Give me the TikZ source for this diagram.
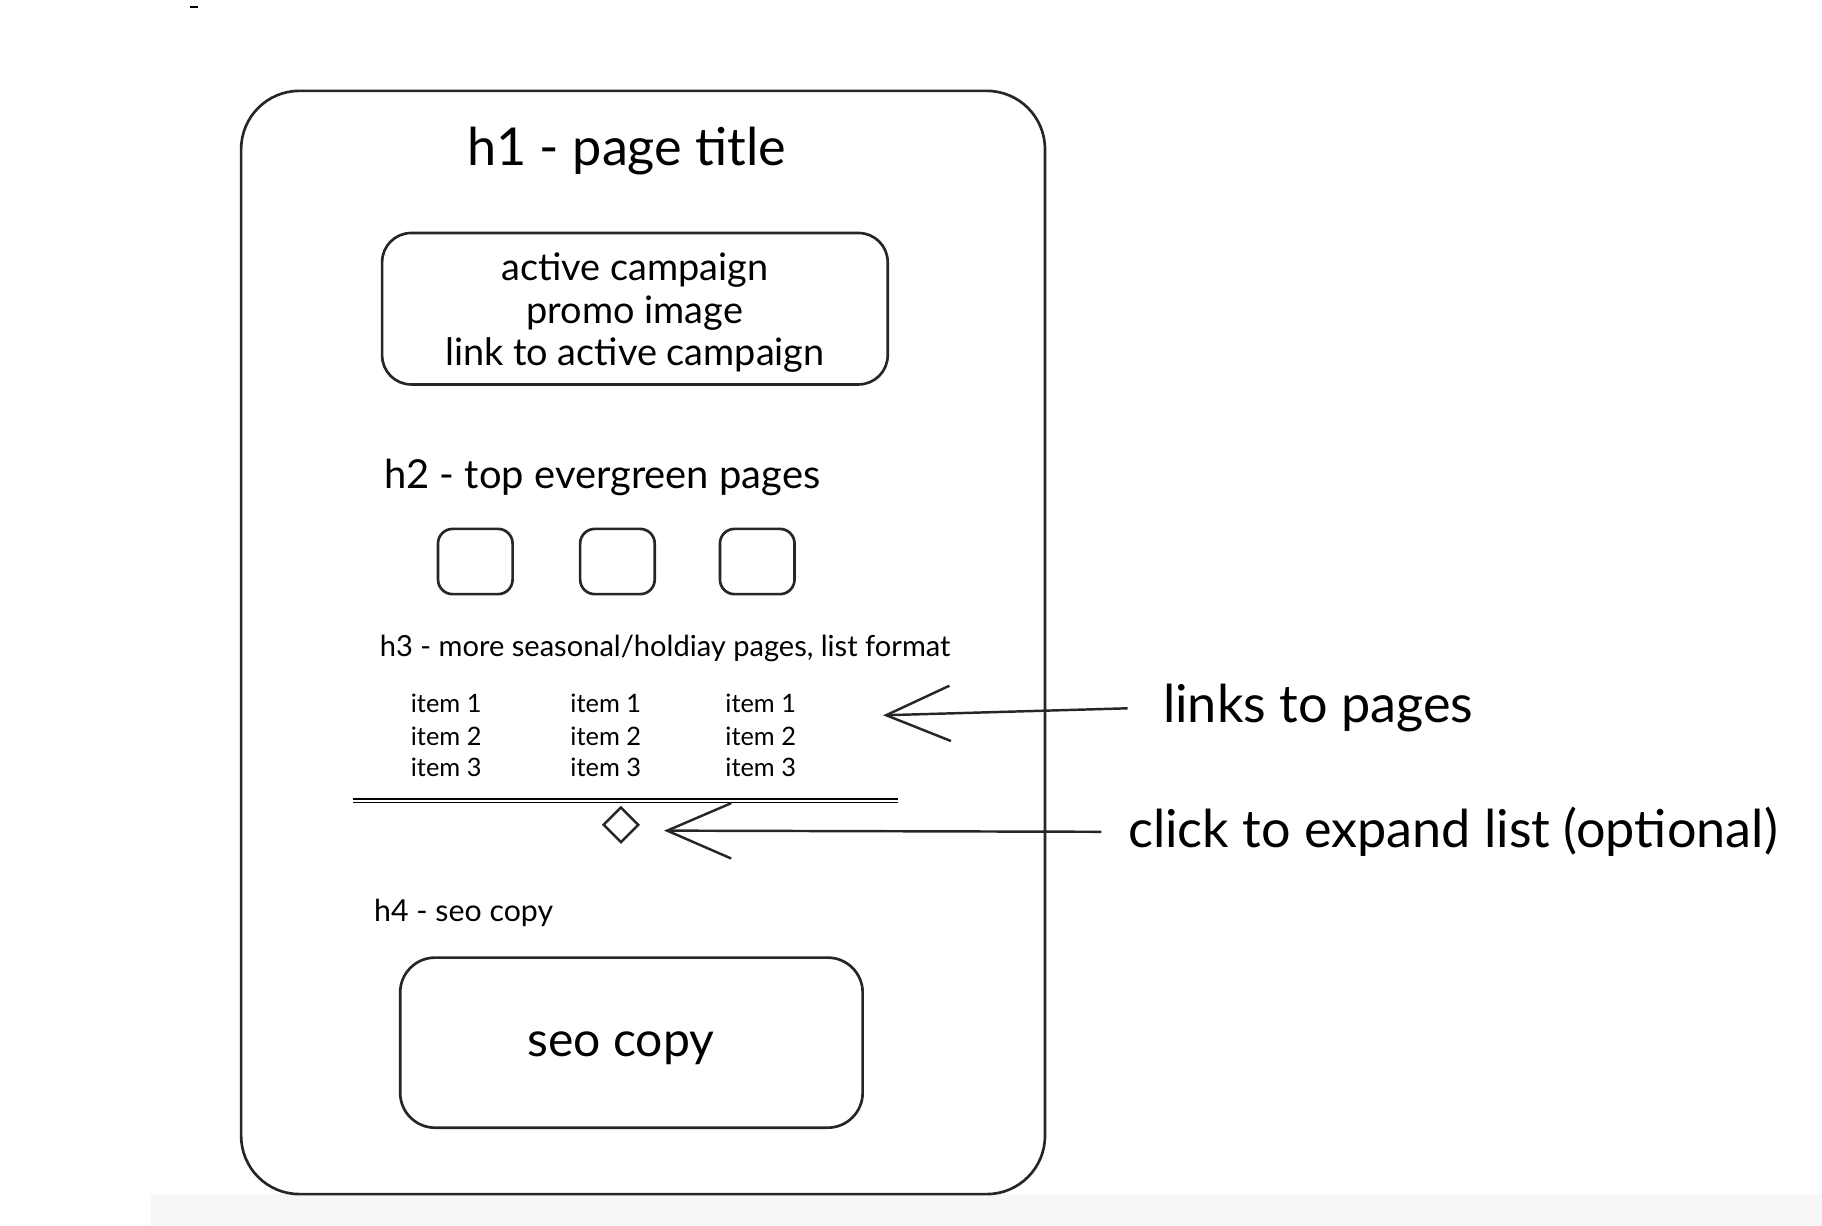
\documentclass[tikz,border=0pt]{standalone}
\usepackage{fontspec}
\setmainfont{Lato}
\usetikzlibrary{arrows.meta}
\tikzset{
  sk/.style={draw=black!85, line width=1.3pt, rounded corners=#1},
  chev/.style={-{Straight Barb[length=1.1cm,width=0.95cm,line width=1.2pt]}, line width=1.2pt, draw=black!85},
  txt/.style={font=\fontsize{#1}{#1}\selectfont, inner sep=0pt}
}
\begin{document}
\begin{tikzpicture}[x=0.02cm,y=-0.02cm]
\useasboundingbox (0,0) rectangle (1564,1052);
\fill[black!3] (130,1025) rectangle (1564,1052);
\draw[line width=0.6pt] (163,6) -- (170,6);
% outer
\node[sk=1cm, minimum width=690*0.02cm, minimum height=947*0.02cm] (outer) at (552,551.5) {};
\node[txt=25.5] (title) at (538,130) {h1 - page title};
\node[sk=0.5cm, minimum width=434*0.02cm, minimum height=130*0.02cm] (promo) at (545,265) {};
\node[txt=18.5] (p1) at (545,232) {active campaign};
\node[txt=18.5] (p2) at (545,269) {promo image};
\node[txt=18.5] (p3) at (545,305) {link to active campaign};
\node[txt=19.5] (h2) at (517,410) {h2 - top evergreen pages};
\foreach \x/\n in {408/a,530/b,650/c}
  \node[sk=0.25cm, minimum width=64*0.02cm, minimum height=56*0.02cm] (sq\n) at (\x,482) {};
\node[txt=14.2] (h3) at (571,557) {h3 - more seasonal/holdiay pages, list format};
\foreach \x/\n in {383/a,520/b,653/c}{
  \node[txt=12.4] (i1\n) at (\x,604) {item 1};
  \node[txt=12.4] (i2\n) at (\x,632) {item 2};
  \node[txt=12.4] (i3\n) at (\x,659) {item 3};
}
\coordinate (la) at (303,686); \coordinate (lb) at (771,686);
\draw[line width=1.2pt] (la) -- (lb);
\draw[line width=0.6pt] ([yshift=-0.06cm]la) -- ([yshift=-0.06cm]lb);
\node[draw=black!85, line width=1.2pt, rotate=45, minimum size=0.42cm, inner sep=0pt] (dia) at (533,708) {};
\node[txt=14.8] (h4) at (398,784) {h4 - seo copy};
\node[sk=0.6cm, minimum width=397*0.02cm, minimum height=146*0.02cm] (seo) at (542,895) {};
\node[txt=23.5] (seot) at (533,900) {seo copy};
\node[txt=25.5, anchor=west] (lab1) at (998,608) {links to pages};
\node[txt=25.5, anchor=west] (lab2) at (968,714) {click to expand list (optional)};
\coordinate (t1) at (758,614);
\coordinate (t2) at (570,713);
\draw[chev] ([xshift=-0.6cm]lab1.west) -- (t1);
\draw[chev] ([xshift=-0.45cm]lab2.west) -- (t2);
\end{tikzpicture}
\end{document}
